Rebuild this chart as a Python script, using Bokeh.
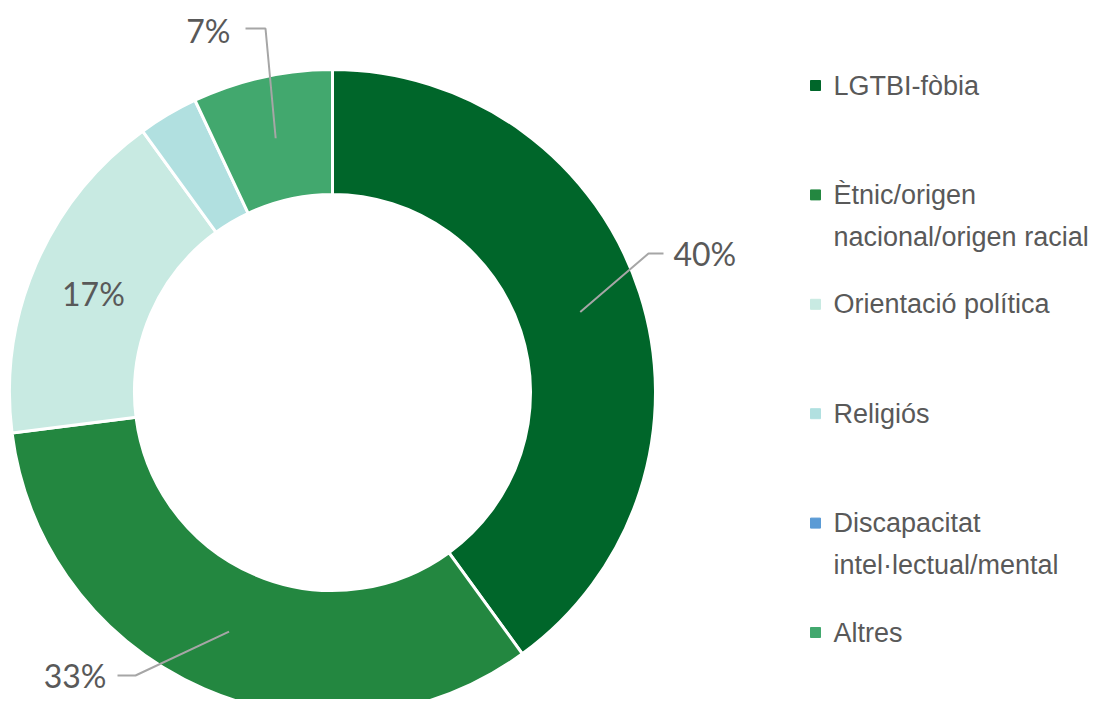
import math
from bokeh.plotting import figure
from bokeh.models import Range1d
from bokeh.core.properties import value
from bokeh.embed import file_html
from bokeh.resources import INLINE

# ---- data ----
categories = ["LGTBI-fòbia", "Ètnic/origen\nnacional/origen racial", "Orientació política",
              "Religiós", "Discapacitat\nintel·lectual/mental", "Altres"]
shares = [40, 33, 17, 3, 0, 7]
pct_labels = ["40%", "33%", "17%", "", "", "7%"]
colors = ["#00662A", "#238740", "#C8EAE2", "#B1E0E0", "#5B9BD5", "#42A86E"]

# ---- layout (pixels, y up) ----
W, H = 1098, 699
CX, CY = 332, 307
R_OUT, R_IN = 323, 198
TXT = "#595959"
LEAD = "#A6A6A6"

p = figure(width=W, height=H, x_range=Range1d(0, W), y_range=Range1d(0, H),
           output_backend="svg", toolbar_location=None, min_border=0)
p.xaxis.visible = False
p.yaxis.visible = False
p.xgrid.visible = False
p.ygrid.visible = False
p.outline_line_color = None
p.background_fill_color = "white"

total = float(sum(shares))
cum = 0.0
mids = []
for s, c in zip(shares, colors):
    a0 = cum / total
    cum += s
    a1 = cum / total
    mids.append((a0 + a1) / 2)
    if s <= 0:
        continue
    start = math.pi / 2 - 2 * math.pi * a1
    end = math.pi / 2 - 2 * math.pi * a0
    p.annular_wedge(x=CX, y=CY, inner_radius=R_IN, outer_radius=R_OUT,
                    start_angle=start, end_angle=end,
                    fill_color=c, line_color="white", line_width=3)

# leader-line / label placement in pixels
label_place = {
    0: dict(elbow=(648, 446), end=(663, 446), text=(673, 446), align="left"),
    1: dict(elbow=(135, 24), end=(117, 24), text=(106, 24), align="right"),
    5: dict(elbow=(265, 671), end=(245, 671), text=(230, 669), align="right"),
}
r_mid = (R_IN + R_OUT) / 2
for i, lab in enumerate(pct_labels):
    if not lab:
        continue
    ang = 2 * math.pi * mids[i]
    sx = CX + r_mid * math.sin(ang)
    sy = CY + r_mid * math.cos(ang)
    if i in label_place:
        lp = label_place[i]
        p.line(x=[sx, lp["elbow"][0], lp["end"][0]], y=[sy, lp["elbow"][1], lp["end"][1]],
               line_color=LEAD, line_width=2)
        p.text(x=[lp["text"][0]], y=[lp["text"][1]], text=[lab], text_align=lp["align"],
               text_baseline="middle", text_color=TXT, text_font=value("Lato"),
               text_font_size="32px")
    else:
        p.text(x=[sx], y=[sy - 4], text=[lab], text_align="center", text_baseline="middle",
               text_color=TXT, text_font=value("Lato"), text_font_size="32px")

# legend
LX_SQ, LX_TX = 815, 833
LY0, LSTEP, LLINE = 614, 109.4, 42
for i, (cat, c) in enumerate(zip(categories, colors)):
    y = LY0 - i * LSTEP
    p.scatter(x=[LX_SQ], y=[y], marker="square", size=10, fill_color=c, line_color=c)
    for j, line in enumerate(cat.split("\n")):
        p.text(x=[LX_TX], y=[y - j * LLINE], text=[line], text_align="left",
               text_baseline="middle", text_color=TXT,
               text_font=value("Liberation Sans"), text_font_size="27px")

open("out.html", "w").write(file_html(p, INLINE))
